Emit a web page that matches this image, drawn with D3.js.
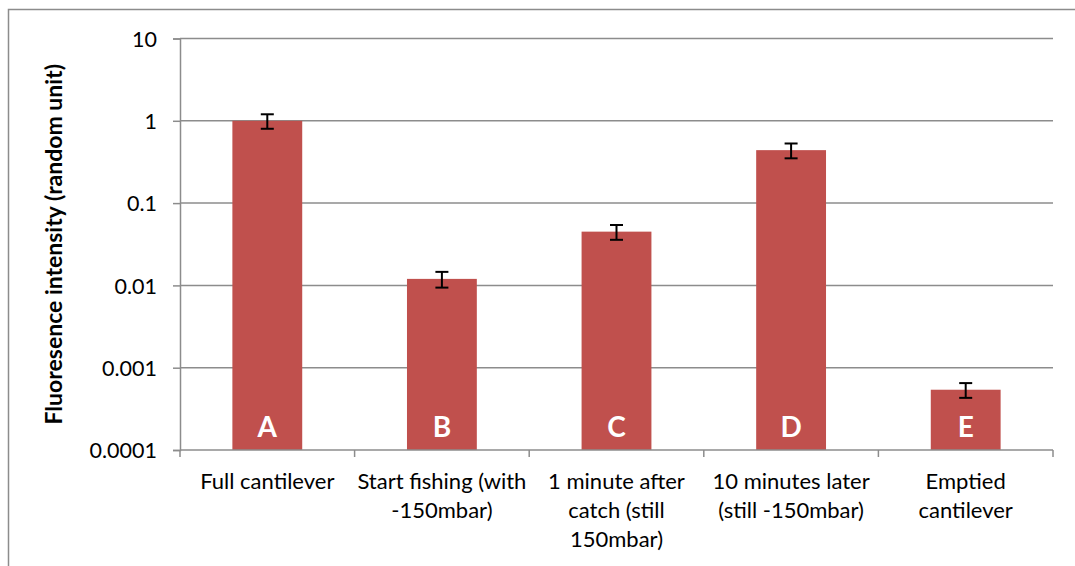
<!DOCTYPE html>
<html>
<head>
<meta charset="utf-8">
<script src="https://cdn.jsdelivr.net/npm/d3@7"></script>
<style>
  html, body { margin: 0; padding: 0; background: #ffffff; }
  svg { display: block; }
  text { font-family: Lato, "Open Sans", sans-serif; fill: #000; }
</style>
</head>
<body>
<svg id="chart" width="1075" height="566"></svg>
<script>
// Fluorescence measurements per cantilever stage
const categories = [
  "Full cantilever",
  "Start fishing (with -150mbar)",
  "1 minute after catch (still 150mbar)",
  "10 minutes later (still -150mbar)",
  "Emptied cantilever"
];
const categoryLines = [
  ["Full cantilever"],
  ["Start fishing (with", "-150mbar)"],
  ["1 minute after", "catch (still", "150mbar)"],
  ["10 minutes later", "(still -150mbar)"],
  ["Emptied", "cantilever"]
];
const barLetters = ["A", "B", "C", "D", "E"];
const values = [1.0, 0.012, 0.045, 0.44, 0.00054];
const errors = [0.2, 0.0026, 0.0092, 0.09, 0.00011];
const yTicks = [0.0001, 0.001, 0.01, 0.1, 1, 10];
const yTickLabels = ["0.0001", "0.001", "0.01", "0.1", "1", "10"];
const yTitle = "Fluoresence intensity (random unit)";

const svg = d3.select("#chart");
const plot = { left: 180, right: 1053, top: 38.5, bottom: 450 };
const gridColor = "#8c8c8c";
const barColor = "#c0504d";

// outer chart frame
svg.append("path")
  .attr("d", "M8.5,566 V9.5 H1075")
  .attr("fill", "none")
  .attr("stroke", gridColor)
  .attr("stroke-width", 1.5);

const x = d3.scaleBand()
  .domain(categories)
  .range([plot.left, plot.right])
  .paddingInner(0.6)
  .paddingOuter(0.3);

const y = d3.scaleLog()
  .domain([1e-4, 10])
  .range([plot.bottom, plot.top]);

// y axis with tick labels
const yAxis = d3.axisLeft(y)
  .tickValues(yTicks)
  .tickFormat((d, i) => yTickLabels[i])
  .tickSize(7)
  .tickPadding(16);

const yg = svg.append("g")
  .attr("transform", `translate(${plot.left},0)`)
  .call(yAxis);
yg.attr("font-family", null).attr("font-size", null);
yg.select(".domain").attr("stroke", gridColor).attr("stroke-width", 1.5);
yg.selectAll(".tick line").attr("stroke", gridColor).attr("stroke-width", 1.5);
yg.selectAll(".tick text")
  .style("font-size", "21.5px")
  .attr("dy", "0.36em");

// horizontal gridlines
svg.append("g").selectAll("line")
  .data(yTicks.filter(d => d > 1e-4))
  .join("line")
  .attr("x1", plot.left)
  .attr("x2", plot.right)
  .attr("y1", d => y(d))
  .attr("y2", d => y(d))
  .attr("stroke", gridColor)
  .attr("stroke-width", 1.5);

// bars
svg.append("g").selectAll("rect")
  .data(values)
  .join("rect")
  .attr("x", (d, i) => x(categories[i]))
  .attr("width", x.bandwidth())
  .attr("y", d => y(d))
  .attr("height", d => plot.bottom - y(d))
  .attr("fill", barColor);

// category axis with ticks on band boundaries
const step = x.step();
const boundaries = d3.range(categories.length + 1).map(i => plot.left + i * step);
svg.append("line")
  .attr("x1", plot.left).attr("x2", plot.right)
  .attr("y1", plot.bottom).attr("y2", plot.bottom)
  .attr("stroke", gridColor).attr("stroke-width", 1.5);
svg.append("g").selectAll("line")
  .data(boundaries)
  .join("line")
  .attr("x1", d => d).attr("x2", d => d)
  .attr("y1", plot.bottom).attr("y2", plot.bottom + 7)
  .attr("stroke", gridColor).attr("stroke-width", 1.5);

// error bars
const eb = svg.append("g").attr("stroke", "#000").attr("stroke-width", 2);
values.forEach((v, i) => {
  const cx = x(categories[i]) + x.bandwidth() / 2;
  const yHi = y(v + errors[i]);
  const yLo = y(v - errors[i]);
  eb.append("line").attr("x1", cx).attr("x2", cx).attr("y1", yHi).attr("y2", yLo);
  eb.append("line").attr("x1", cx - 6.5).attr("x2", cx + 6.5).attr("y1", yHi).attr("y2", yHi);
  eb.append("line").attr("x1", cx - 6.5).attr("x2", cx + 6.5).attr("y1", yLo).attr("y2", yLo);
});

// letter inside each bar
svg.append("g").selectAll("text")
  .data(barLetters)
  .join("text")
  .attr("x", (d, i) => x(categories[i]) + x.bandwidth() / 2)
  .attr("y", 437)
  .attr("text-anchor", "middle")
  .style("font-size", "28px")
  .style("font-weight", "bold")
  .style("fill", "#ffffff")
  .text(d => d);

// category labels
const cl = svg.append("g");
categoryLines.forEach((lines, i) => {
  const cx = x(categories[i]) + x.bandwidth() / 2;
  const t = cl.append("text")
    .attr("x", cx)
    .attr("y", 488.5)
    .attr("text-anchor", "middle")
    .style("font-size", "22px");
  lines.forEach((ln, j) => {
    t.append("tspan")
      .attr("x", cx)
      .attr("dy", j === 0 ? 0 : 29)
      .text(ln);
  });
});

// y axis title
svg.append("text")
  .attr("transform", `translate(62,${(plot.top + plot.bottom) / 2}) rotate(-90)`)
  .attr("text-anchor", "middle")
  .style("font-size", "23px")
  .style("font-weight", "bold")
  .text(yTitle);
</script>
</body>
</html>
